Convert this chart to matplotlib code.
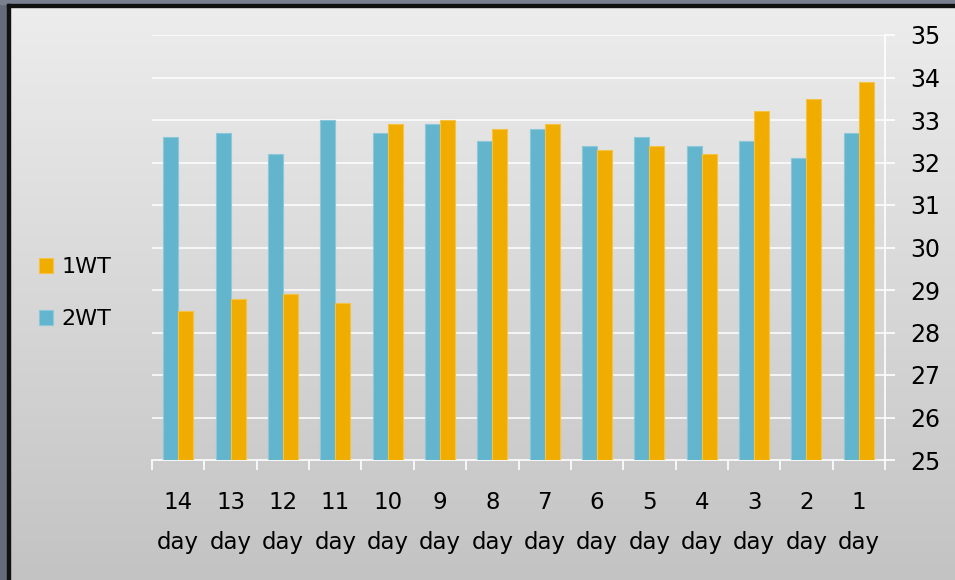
import numpy as np
import matplotlib.pyplot as plt
from matplotlib.patches import Rectangle

days = ["14", "13", "12", "11", "10", "9", "8", "7", "6", "5", "4", "3", "2", "1"]
wt2 = [32.6, 32.7, 32.2, 33.0, 32.7, 32.9, 32.5, 32.8, 32.4, 32.6, 32.4, 32.5, 32.1, 32.7]
wt1 = [28.5, 28.8, 28.9, 28.7, 32.9, 33.0, 32.8, 32.9, 32.3, 32.4, 32.2, 33.2, 33.5, 33.9]
y_ticks = list(range(25, 36))

W, H = 955, 580
fig = plt.figure(figsize=(W / 100, H / 100), dpi=100)

# background gradient and frame
bg = fig.add_axes([0, 0, 1, 1], zorder=-10)
grad = np.linspace(0, 1, 256).reshape(-1, 1)
top = np.array([0.93, 0.93, 0.93])
bot = np.array([0.765, 0.765, 0.765])
img = top + (bot - top) * grad[:, :, None]
bg.imshow(img, extent=[0, W, H, 0], aspect="auto")
bg.add_patch(Rectangle((0, 0), 7, H, color="#656b7a"))
bg.add_patch(Rectangle((0, 0), W, 4, color="#7a8090"))
bg.add_patch(Rectangle((7, 4), 3, H, color="#111111"))
bg.add_patch(Rectangle((7, 4), W, 3, color="#111111"))
bg.set_xlim(0, W)
bg.set_ylim(H, 0)
bg.axis("off")

ax = fig.add_axes([152 / W, 1 - 460 / H, (885 - 152) / W, (460 - 35) / H])
ax.set_facecolor("none")

x = np.arange(len(days))
w = 0.287
ax.bar(x - w / 2, np.array(wt2) - 25, w, bottom=25, color="#62b5cd",
       edgecolor="#8cc8da", linewidth=0.8, label="2WT", zorder=3)
ax.bar(x + w / 2, np.array(wt1) - 25, w, bottom=25, color="#f0ad00",
       edgecolor="#f4c245", linewidth=0.8, label="1WT", zorder=3)

ax.set_xlim(-0.5, len(days) - 0.5)
ax.set_ylim(25, 35)
ax.set_yticks(y_ticks)
ax.yaxis.tick_right()
ax.tick_params(axis="y", colors="white", length=7, width=1.2, pad=11,
               labelsize=17, labelcolor="black")
for yv in y_ticks[1:]:
    ax.axhline(yv, color="white", lw=1.1, zorder=1)

ax.set_xticks(x)
ax.set_xticklabels([d + "\nday" for d in days], fontsize=16.5, linespacing=1.95)
ax.set_xticks(np.arange(-0.5, len(days)), minor=True)
ax.tick_params(axis="x", which="major", length=0, pad=22)
ax.tick_params(axis="x", which="minor", colors="white", length=7, width=1.2)

for s in ["top", "left"]:
    ax.spines[s].set_visible(False)
for s in ["right", "bottom"]:
    ax.spines[s].set_color("white")
    ax.spines[s].set_linewidth(1.2)

handles, labels = ax.get_legend_handles_labels()
fig.legend(handles[::-1], labels[::-1], loc="center left",
           bbox_to_anchor=(19 / W, 1 - 293 / H), frameon=False, fontsize=16,
           handlelength=0.65, handleheight=0.65, handletextpad=0.35,
           labelspacing=1.45)

plt.savefig("out.png", dpi=100)
